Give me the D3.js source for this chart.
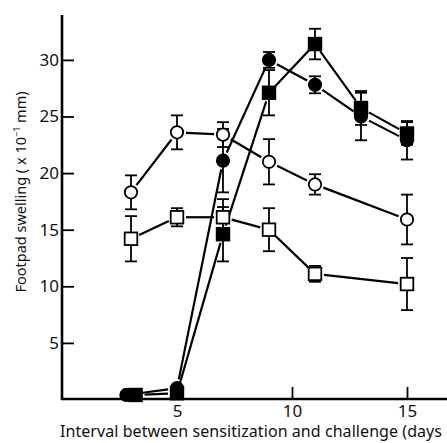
<!DOCTYPE html>
<html lang="en">
<head>
    <meta charset="UTF-8">
    <title>Footpad swelling</title>
    <script src="https://d3js.org/d3.v7.min.js"></script>
    <style>
        body { margin: 0; background: #fff; }
        text { font-family: "Noto Sans", "DejaVu Sans", sans-serif; fill: #111; }
    </style>
</head>
<body>
    <svg width="447" height="443"></svg>
    <script type="text/javascript">

        // days after sensitization
        var openCircleDays = [3, 5, 7, 9, 11, 15];
        var openCircleMean = [18.3, 23.6, 23.4, 21.0, 19.0, 15.9];
        var openCircleErr  = [1.5, 1.5, 1.1, 2.0, 0.9, 2.2];

        var openSquareDays = [3, 5, 7, 9, 11, 15];
        var openSquareMean = [14.2, 16.1, 16.1, 15.0, 11.1, 10.2];
        var openSquareErr  = [2.0, 0.8, 1.6, 1.9, 0.7, 2.3];

        var filledCircleDays = [2.8, 5, 7, 9, 11, 13, 15];
        var filledCircleMean = [0.4, 1.0, 21.1, 30.0, 27.8, 25.0, 22.9];
        var filledCircleErr  = [0, 0, 2.8, 0.7, 0.75, 2.1, 1.7];

        var filledSquareDays = [3.2, 5, 7, 9, 11, 13, 15];
        var filledSquareMean = [0.4, 0.55, 14.6, 27.1, 31.4, 25.75, 23.5];
        var filledSquareErr  = [0, 0, 2.4, 2.0, 1.35, 1.5, 1.0];

        var yTicks = [5, 10, 15, 20, 25, 30];
        var xTicks = [5, 10, 15];

        var x = d3.scaleLinear().domain([0, 15]).range([62, 407]);
        var y = d3.scaleLinear().domain([0, 30]).range([399.5, 59.9]);

        var svg = d3.select("svg");

        function rows(days, mean, err) {
            return days.map(function(d, i) { return {day: d, v: mean[i], e: err[i]}; });
        }

        var series = [
            {data: rows(openSquareDays, openSquareMean, openSquareErr), shape: "square", fill: "#fff"},
            {data: rows(openCircleDays, openCircleMean, openCircleErr), shape: "circle", fill: "#fff"},
            {data: rows(filledSquareDays, filledSquareMean, filledSquareErr), shape: "square", fill: "#000"},
            {data: rows(filledCircleDays, filledCircleMean, filledCircleErr), shape: "circle", fill: "#000"}
        ];

        // connecting lines, cut short near each marker
        series.forEach(function(s) {
            for (var i = 0; i < s.data.length - 1; i++) {
                var x1 = x(s.data[i].day), y1 = y(s.data[i].v);
                var x2 = x(s.data[i + 1].day), y2 = y(s.data[i + 1].v);
                var len = Math.hypot(x2 - x1, y2 - y1);
                var gap = Math.min(9, len / 3);
                var ux = (x2 - x1) / len, uy = (y2 - y1) / len;
                svg.append("line")
                    .attr("x1", x1 + ux * gap).attr("y1", y1 + uy * gap)
                    .attr("x2", x2 - ux * gap).attr("y2", y2 - uy * gap)
                    .attr("stroke", "#000")
                    .attr("stroke-width", 2.2);
            }
        });

        // error bars
        series.forEach(function(s) {
            var g = svg.append("g").attr("stroke", "#000").attr("stroke-width", 1.8);
            s.data.filter(function(d) { return d.e > 0; }).forEach(function(d) {
                var cx = x(d.day);
                g.append("line").attr("x1", cx).attr("x2", cx)
                    .attr("y1", y(d.v + d.e)).attr("y2", y(d.v - d.e));
                [d.v + d.e, d.v - d.e].forEach(function(t) {
                    g.append("line").attr("x1", cx - 6).attr("x2", cx + 6)
                        .attr("y1", y(t)).attr("y2", y(t));
                });
            });
        });

        // markers
        series.forEach(function(s) {
            var g = svg.append("g");
            s.data.forEach(function(d) {
                if (s.shape === "circle") {
                    g.append("circle")
                        .attr("cx", x(d.day)).attr("cy", y(d.v)).attr("r", 6.2)
                        .attr("fill", s.fill).attr("stroke", "#000").attr("stroke-width", 1.8);
                } else {
                    g.append("rect")
                        .attr("x", x(d.day) - 6.3).attr("y", y(d.v) - 6.3)
                        .attr("width", 12.6).attr("height", 12.6)
                        .attr("fill", s.fill).attr("stroke", "#000").attr("stroke-width", 1.8);
                }
            });
        });

        // axes
        var yAxis = svg.append("g")
            .attr("transform", "translate(62,0)")
            .call(d3.axisLeft(y).tickValues(yTicks).tickSize(-12).tickPadding(3));
        yAxis.select(".domain").remove();
        yAxis.selectAll("line").attr("stroke-width", 1.8);
        yAxis.selectAll("text").attr("font-size", "17px").attr("fill", "#111");

        var xAxis = svg.append("g")
            .attr("transform", "translate(0,399)")
            .call(d3.axisBottom(x).tickValues(xTicks).tickSize(-12).tickPadding(6));
        xAxis.select(".domain").remove();
        xAxis.selectAll("line").attr("stroke-width", 1.8);
        xAxis.selectAll("text").attr("font-size", "17px").attr("fill", "#111");

        svg.append("line").attr("x1", 62).attr("x2", 62).attr("y1", 15).attr("y2", 400)
            .attr("stroke", "#000").attr("stroke-width", 2.6);
        svg.append("line").attr("x1", 61).attr("x2", 447).attr("y1", 399).attr("y2", 399)
            .attr("stroke", "#000").attr("stroke-width", 2.6);

        // axis titles (the source image is cropped right after "(days")
        svg.append("text")
            .attr("x", 60).attr("y", 437)
            .attr("font-size", "16px")
            .attr("textLength", 382)
            .attr("lengthAdjust", "spacing")
            .text("Interval between sensitization and challenge (days");

        var yl = svg.append("text")
            .attr("transform", "translate(26,192) rotate(-90)")
            .attr("text-anchor", "middle")
            .attr("font-size", "14.5px");
        yl.append("tspan").text("Footpad swelling ( x 10");
        yl.append("tspan").attr("font-size", "9px").attr("dy", "-6").text("−1");
        yl.append("tspan").attr("dy", "6").text(" mm)");

    </script>
</body>
</html>
